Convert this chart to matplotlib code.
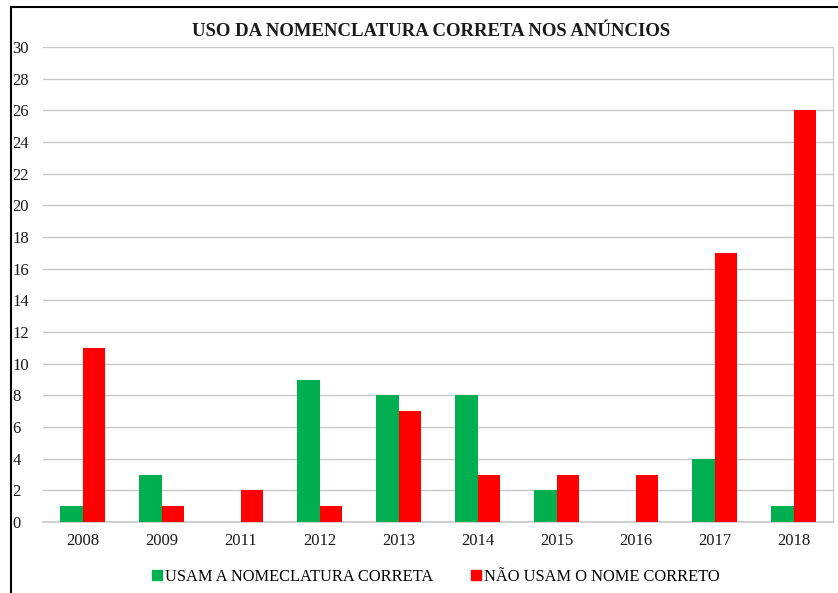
import matplotlib
matplotlib.use('Agg')
import matplotlib.pyplot as plt
from matplotlib.lines import Line2D
from matplotlib.patches import Patch
import numpy as np

years = ['2008', '2009', '2011', '2012', '2013', '2014', '2015', '2016', '2017', '2018']
usam = [1, 3, 0, 9, 8, 8, 2, 0, 4, 1]
nao_usam = [11, 1, 2, 1, 7, 3, 3, 3, 17, 26]

GREEN = '#00B050'
RED = '#FF0000'
GRID = '#c8c8c8'

plt.rcParams['font.family'] = ['Liberation Serif', 'DejaVu Serif']

fig = plt.figure(figsize=(8.38, 5.93), dpi=100)
ax = fig.add_axes([43/838, 1 - 522/593, 790/838, 475/593])

x = np.arange(len(years))
w = 0.28
ax.bar(x - w/2, usam, w, color=GREEN, zorder=3, label='USAM A NOMECLATURA CORRETA')
ax.bar(x + w/2, nao_usam, w, color=RED, zorder=3, label='NÃO USAM O NOME CORRETO')

ax.set_xlim(-0.5, len(years) - 0.5)
ax.set_ylim(0, 30)
ax.set_yticks(range(0, 31, 2))
ax.set_xticks(x)
ax.set_xticklabels(years)
ax.grid(axis='y', color=GRID, linewidth=1.0, zorder=0)
ax.set_axisbelow(True)
for s in ['top', 'left']:
    ax.spines[s].set_visible(False)
ax.spines['right'].set_color(GRID)
ax.spines['bottom'].set_color(GRID)
ax.spines['bottom'].set_linewidth(1.2)
ax.tick_params(axis='both', length=0, labelsize=12, colors='#1a1a1a')
ax.tick_params(axis='y', pad=22)
for lbl in ax.get_yticklabels():
    lbl.set_horizontalalignment('left')
ax.tick_params(axis='x', pad=8)

fig.text(431/838, 1 - 31/593, 'USO DA NOMENCLATURA CORRETA NOS ANÚNCIOS',
         ha='center', va='center', fontsize=13.5, fontweight='bold', color='#1a1a1a')

handles = [Patch(color=GREEN, label='USAM A NOMECLATURA CORRETA'),
           Patch(color=RED, label='NÃO USAM O NOME CORRETO')]
fig.legend(handles=handles, loc='center', bbox_to_anchor=(436/838, 1 - 577/593), ncol=2,
           frameon=False, fontsize=11.8, handlelength=0.6, handleheight=0.6,
           handletextpad=0.2, columnspacing=2.3)

# outer frame lines (top and left)
fig.add_artist(Line2D([11/838, 1], [1 - 7/593, 1 - 7/593], color='black', linewidth=1.5,
                      transform=fig.transFigure))
fig.add_artist(Line2D([11/838, 11/838], [0, 1 - 7/593], color='black', linewidth=1.5,
                      transform=fig.transFigure))

fig.savefig('out.png', dpi=100)
